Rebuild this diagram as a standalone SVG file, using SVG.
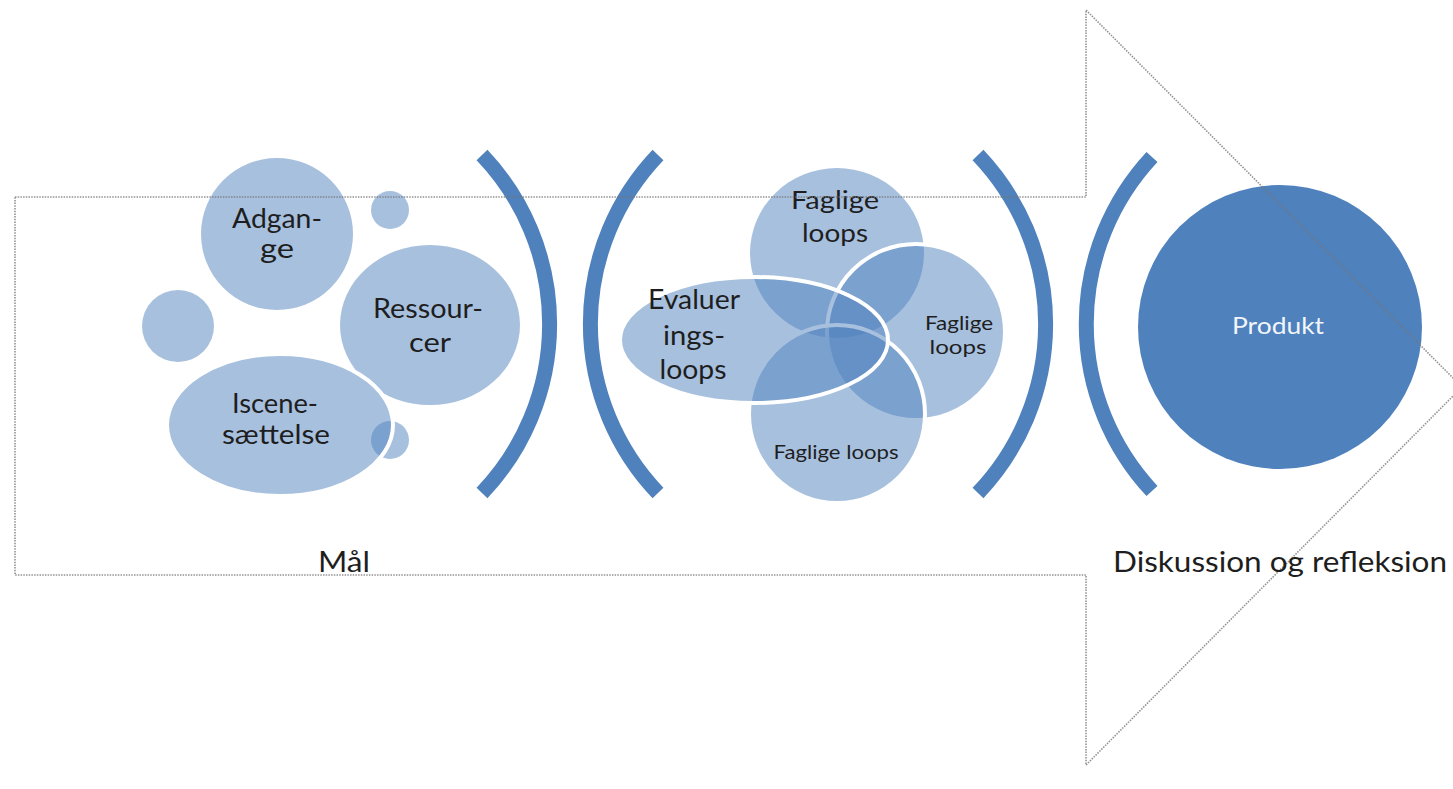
<svg xmlns="http://www.w3.org/2000/svg" width="1453" height="789" viewBox="0 0 1453 789">
<style>
.lt{fill:#4F81BD;fill-opacity:0.5}
.ws{stroke:#fff;stroke-width:4}
.br{fill:none;stroke:#4F81BD;stroke-width:15}
.t{font-family:Lato,"Open Sans","Liberation Sans",sans-serif;fill:#1e1e1e;text-anchor:middle}
.arrow{fill:none;stroke:#777;stroke-width:1.6;stroke-dasharray:1.5 1.2;stroke-opacity:0.8}
</style>
<rect width="1453" height="789" fill="#fff"/>

<g id="left-cluster">
  <circle class="lt" cx="277" cy="234" r="76"/>
  <circle class="lt" cx="390" cy="210" r="19"/>
  <circle class="lt" cx="178" cy="326" r="36"/>
  <ellipse class="lt" cx="430" cy="325" rx="90" ry="80"/>
  <circle class="lt" cx="390" cy="440" r="19"/>
  <ellipse class="lt ws" cx="280" cy="425" rx="113" ry="71"/>
  <text class="t" x="277" y="228" font-size="26" textLength="90" lengthAdjust="spacingAndGlyphs">Adgan-</text>
  <text class="t" x="277" y="258" font-size="26" textLength="34" lengthAdjust="spacingAndGlyphs">ge</text>
  <text class="t" x="428" y="318" font-size="26" textLength="110" lengthAdjust="spacingAndGlyphs">Ressour-</text>
  <text class="t" x="430" y="352" font-size="26" textLength="42" lengthAdjust="spacingAndGlyphs">cer</text>
  <text class="t" x="275" y="413" font-size="26" textLength="86" lengthAdjust="spacingAndGlyphs">Iscene-</text>
  <text class="t" x="276" y="444" font-size="26" textLength="108" lengthAdjust="spacingAndGlyphs">sættelse</text>
</g>

<g id="brackets">
  <path class="br" d="M482,155 A245,245 0 0 1 482,493"/>
  <path class="br" d="M658,155 A245,245 0 0 0 658,493"/>
  <path class="br" d="M978,155 A245,245 0 0 1 978,493"/>
  <path class="br" d="M1152,157 A245,245 0 0 0 1152,491"/>
</g>

<g id="middle-cluster">
  <ellipse class="lt" cx="837" cy="253" rx="87" ry="85"/>
  <ellipse class="lt ws" cx="916" cy="332" rx="89" ry="88"/>
  <ellipse class="lt ws" cx="837" cy="414" rx="88" ry="89"/>
  <ellipse class="lt ws" cx="754" cy="340" rx="134" ry="63"/>
  <text class="t" x="835" y="209" font-size="25" textLength="88" lengthAdjust="spacingAndGlyphs">Faglige</text>
  <text class="t" x="835" y="242" font-size="25" textLength="66" lengthAdjust="spacingAndGlyphs">loops</text>
  <text class="t" x="694" y="309" font-size="26" textLength="92" lengthAdjust="spacingAndGlyphs">Evaluer</text>
  <text class="t" x="694" y="345" font-size="26" textLength="62" lengthAdjust="spacingAndGlyphs">ings-</text>
  <text class="t" x="693" y="379" font-size="26" textLength="67" lengthAdjust="spacingAndGlyphs">loops</text>
  <text class="t" x="959" y="330" font-size="19" textLength="68" lengthAdjust="spacingAndGlyphs">Faglige</text>
  <text class="t" x="958" y="354" font-size="19" textLength="57" lengthAdjust="spacingAndGlyphs">loops</text>
  <text class="t" x="836" y="459" font-size="19" textLength="125" lengthAdjust="spacingAndGlyphs">Faglige loops</text>
</g>

<g id="produkt">
  <circle cx="1280" cy="327" r="142" fill="#4F81BD"/>
  <text class="t" x="1278" y="334" font-size="24" style="fill:#f2f5fa" textLength="92" lengthAdjust="spacingAndGlyphs">Produkt</text>
</g>

<g id="connectors">
  <path class="arrow" d="M15,197 H1086 V10 L1462,387 L1086,765 V575 H15 Z"/>
</g>

<g id="labels">
  <text class="t" x="344" y="572" font-size="28" textLength="52" lengthAdjust="spacingAndGlyphs">Mål</text>
  <text class="t" x="1280" y="572" font-size="28" textLength="334" lengthAdjust="spacingAndGlyphs">Diskussion og refleksion</text>
</g>
</svg>
